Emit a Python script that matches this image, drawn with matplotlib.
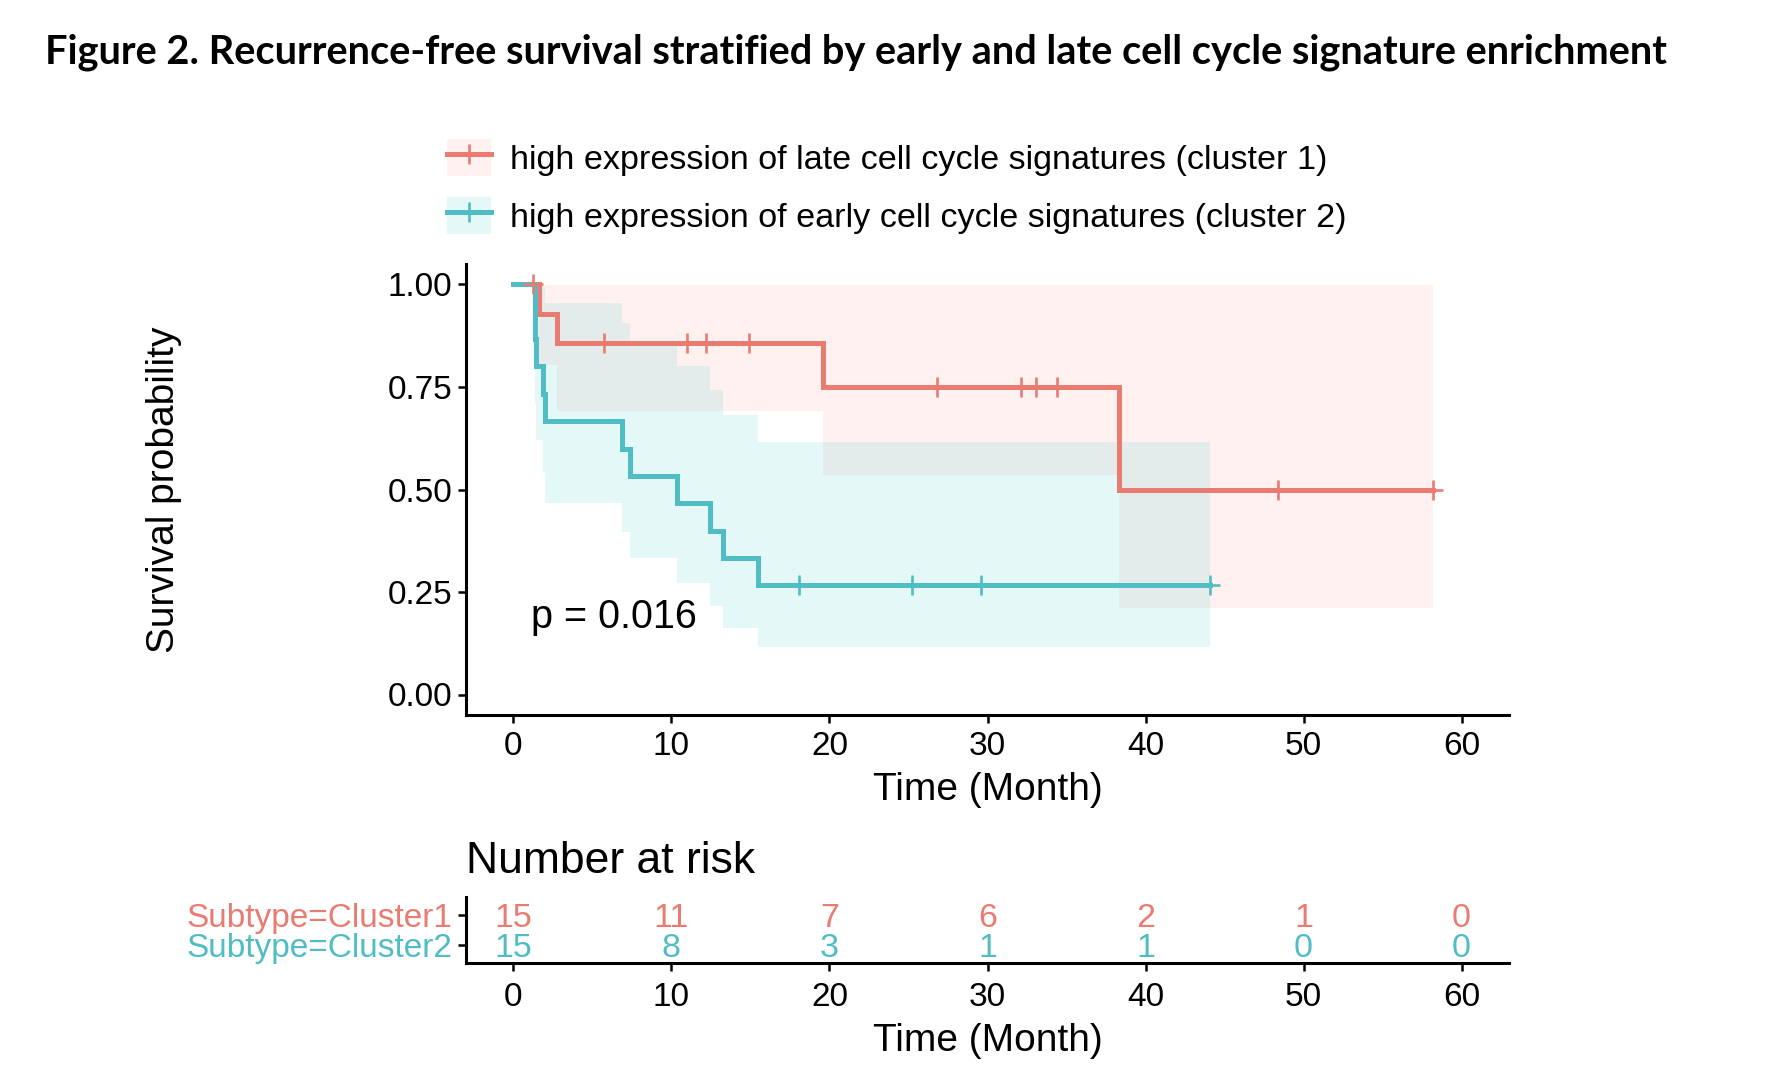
import numpy as np
import matplotlib
matplotlib.use("Agg")
import matplotlib.pyplot as plt
from matplotlib.patches import Patch
from matplotlib.lines import Line2D
from matplotlib.legend_handler import HandlerTuple

plt.rcParams['font.family'] = ['Liberation Sans', 'DejaVu Sans']

# Kaplan-Meier steps (cluster 1 = red, cluster 2 = teal)
c1_times = [0, 1.65, 2.76, 19.6, 38.3]
c1_surv = [1.0, 0.929, 0.857, 0.75, 0.5]
c1_lower = [1.0, 0.803, 0.692, 0.535, 0.21]
c1_upper = [1.0, 1.0, 1.0, 1.0, 1.0]
c1_end = 58.2
c1_censor = [1.27, 5.75, 11.0, 12.2, 14.9, 26.8, 32.1, 33.1, 34.4, 48.4, 58.2]

c2_times = [0, 1.39, 1.46, 1.88, 2.03, 6.9, 7.4, 10.36, 12.47, 13.27, 15.5]
c2_surv = [1.0, 0.867, 0.8, 0.733, 0.667, 0.6, 0.533, 0.467, 0.4, 0.333, 0.267]
c2_lower = [1.0, 0.711, 0.621, 0.540, 0.466, 0.397, 0.332, 0.272, 0.215, 0.163, 0.115]
c2_upper = [1.0, 1.0, 1.0, 0.995, 0.954, 0.907, 0.856, 0.802, 0.743, 0.682, 0.617]
c2_end = 44.1
c2_censor = [18.1, 25.2, 29.6, 44.1]

risk_times = [0, 10, 20, 30, 40, 50, 60]
risk_c1 = [15, 11, 7, 6, 2, 1, 0]
risk_c2 = [15, 8, 3, 1, 1, 0, 0]

labels = ["high expression of late cell cycle signatures (cluster 1)",
          "high expression of early cell cycle signatures (cluster 2)"]
strata = ["Subtype=Cluster1", "Subtype=Cluster2"]
pval_text = "p = 0.016"

line_cols = ["#EA7B71", "#4FBDC3"]
fill_cols = ["#F8766D", "#00BFC4"]

W, H = 1776, 1088
fig = plt.figure(figsize=(W / 100, H / 100), dpi=100)

# main survival axes
ax = fig.add_axes([466 / W, 1 - 715 / H, (1509 - 466) / W, (715 - 264) / H])

groups = [
    (c1_times, c1_surv, c1_lower, c1_upper, c1_end, c1_censor),
    (c2_times, c2_surv, c2_lower, c2_upper, c2_end, c2_censor),
]

# bandas de confianza
for i, (t, s, lo, up, end, cen) in enumerate(groups):
    x = t + [end]
    ax.fill_between(x, lo + [lo[-1]], up + [up[-1]], step="post",
                    color=fill_cols[i], alpha=0.1, lw=0)

# curvas
for i, (t, s, lo, up, end, cen) in enumerate(groups):
    ax.step(t + [end], s + [s[-1]], where="post", color=line_cols[i], lw=3.6,
            solid_joinstyle="miter")

# marcas de censura
for i, (t, s, lo, up, end, cen) in enumerate(groups):
    idx = np.searchsorted(t, cen, side="right") - 1
    ax.plot(cen, np.array(s)[idx], ls="none", marker="+", ms=15, mew=1.9,
            color=line_cols[i])

ax.text(1.1, 0.19, pval_text, fontsize=28.5, ha="left", va="center")

ax.set_xlim(-3, 63)
ax.set_ylim(-0.05, 1.05)
ax.set_xticks(risk_times)
ax.set_yticks([0, 0.25, 0.5, 0.75, 1.0])
ax.set_yticklabels(["%.2f" % v for v in [0, 0.25, 0.5, 0.75, 1.0]])
ax.tick_params(labelsize=24, width=1.8, length=6, colors="black")
ax.tick_params(axis="x", pad=5.5)
ax.tick_params(axis="y", pad=4)
for sp in ["top", "right"]:
    ax.spines[sp].set_visible(False)
for sp in ["left", "bottom"]:
    ax.spines[sp].set_linewidth(2.2)
ax.set_xlabel("Time (Month)", fontsize=28, labelpad=7)
ax.set_ylabel("Survival probability", fontsize=28)
ax.yaxis.set_label_coords(-0.272, 0.5)

# leyenda
handles = [(Patch(facecolor=fill_cols[i], alpha=0.1, lw=0),
            Line2D([], [], color=line_cols[i], lw=3.6, marker="+", ms=15, mew=1.9))
           for i in range(2)]
fig.legend(handles, labels, handler_map={tuple: HandlerTuple(ndivide=1, pad=0)},
           loc="upper left", bbox_to_anchor=(440 / W, 1 - 132 / H), frameon=False,
           fontsize=24.6, handlelength=1.3, handleheight=1.3, handletextpad=0.55,
           labelspacing=0.6, borderaxespad=0, borderpad=0.2)

# tabla de riesgo
axr = fig.add_axes([466 / W, 1 - 963 / H, (1509 - 466) / W, (963 - 897) / H])
rows = [2, 1]
for j, counts in enumerate([risk_c1, risk_c2]):
    for t, n in zip(risk_times, counts):
        axr.text(t, rows[j], str(n), ha="center", va="center_baseline",
                 fontsize=24.5, color=line_cols[j])
axr.set_xlim(-3, 63)
axr.set_ylim(0.4, 2.6)
axr.set_xticks(risk_times)
axr.set_yticks(rows)
axr.set_yticklabels(strata)
for j, lab in enumerate(axr.get_yticklabels()):
    lab.set_color(line_cols[j])
axr.tick_params(axis="x", labelsize=24, width=1.8, length=6, pad=8)
axr.tick_params(axis="y", labelsize=24, width=1.8, length=6, pad=4)
for sp in ["top", "right"]:
    axr.spines[sp].set_visible(False)
for sp in ["left", "bottom"]:
    axr.spines[sp].set_linewidth(2.2)
axr.set_xlabel("Time (Month)", fontsize=28, labelpad=7)
axr.set_title("Number at risk", fontsize=32, loc="left", pad=17)

fig.text(45 / W, 1 - 52 / H,
         "Figure 2. Recurrence-free survival stratified by early and late cell cycle signature enrichment",
         fontsize=28.6, fontweight="bold", family="Lato", ha="left", va="center")

fig.savefig("out.png", dpi=100)
